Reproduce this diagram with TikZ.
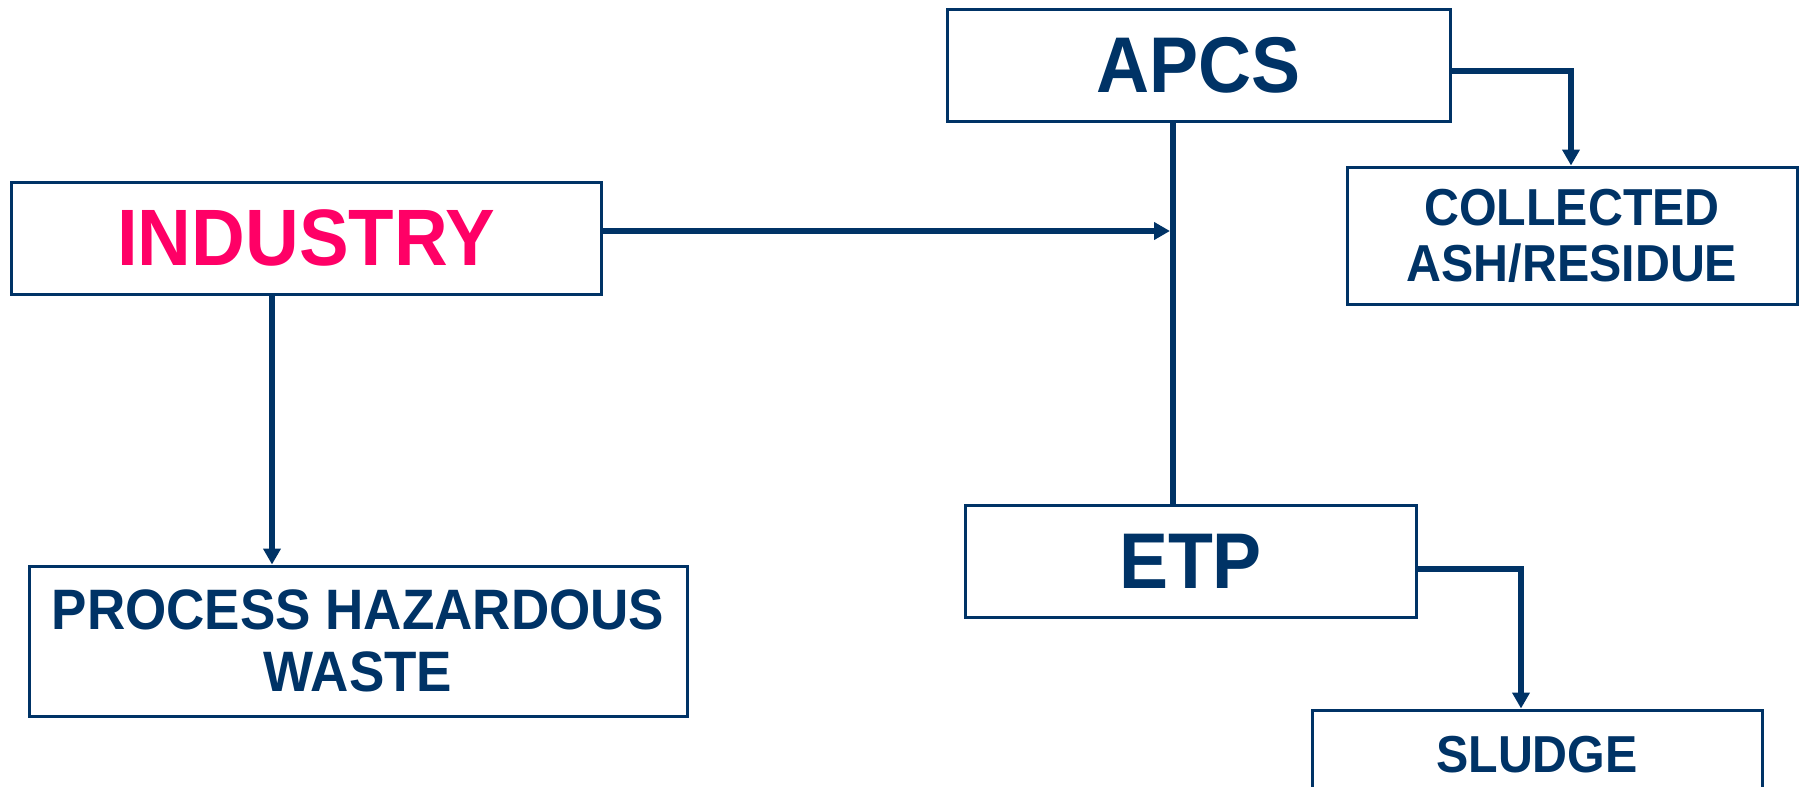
\documentclass[tikz,border=0pt]{standalone}
\usepackage{fontspec}
\setmainfont{Liberation Sans}[FakeStretch=0.93]
\usepackage{tikz}
\usetikzlibrary{positioning}
\usetikzlibrary{calc}
\usetikzlibrary{arrows.meta}
\definecolor{navy}{RGB}{0,51,102}
\definecolor{hotpink}{RGB}{255,0,102}
\tikzset{every picture/.style={line width=6pt}}

\begin{document}
\begin{tikzpicture}[x=1pt,y=-1pt,
bx/.style={rectangle, draw=navy, line width=3pt, inner sep=0pt, text=navy, align=center},
big/.style={bx, minimum height=112pt, font=\fontsize{79}{80}\selectfont\bfseries},
small/.style={bx, font=\fontsize{52}{56}\selectfont\bfseries},
link/.style={draw=navy, line width=6pt},
tip/.style={-{Triangle[length=16pt,width=17pt]}}]
\useasboundingbox (0,0) rectangle (1805,787);
\node (apcs) at (1198.5,65) [big, minimum width=503pt] {APCS};
\node (industry) at (306,238) [big, minimum width=590pt, text=hotpink, font=\fontsize{80}{80}\selectfont\bfseries] {INDUSTRY};
\node (etp) at (1190.5,561) [big, minimum width=451pt] {ETP};
\node (ash) at (1572,235.5) [small, minimum width=450pt, minimum height=137pt] {COLLECTED\\ASH/RESIDUE};
\node (phw) at (358,641) [small, minimum width=658pt, minimum height=150pt, font=\fontsize{57}{62}\selectfont\bfseries] {PROCESS HAZARDOUS\\WASTE};
\node (sludge) at (1537,755) [small, minimum width=450pt, minimum height=90pt] {SLUDGE};
% main line through the treatment plants
\coordinate (bus) at (1173,231);
\draw[link] (apcs.south -| bus) -- (etp.north -| bus);
\draw[link,tip] (industry.east |- bus) -- ($(bus)+(-3,0)$);
\draw[link,tip] (industry.south -| 272,0) -- (phw.north -| 272,0);
\draw[link,tip] (apcs.east |- 0,71) -| (ash.north -| 1571,0);
\draw[link,tip] (etp.east |- 0,569) -| (sludge.north -| 1521,0);
\end{tikzpicture}
\end{document}
